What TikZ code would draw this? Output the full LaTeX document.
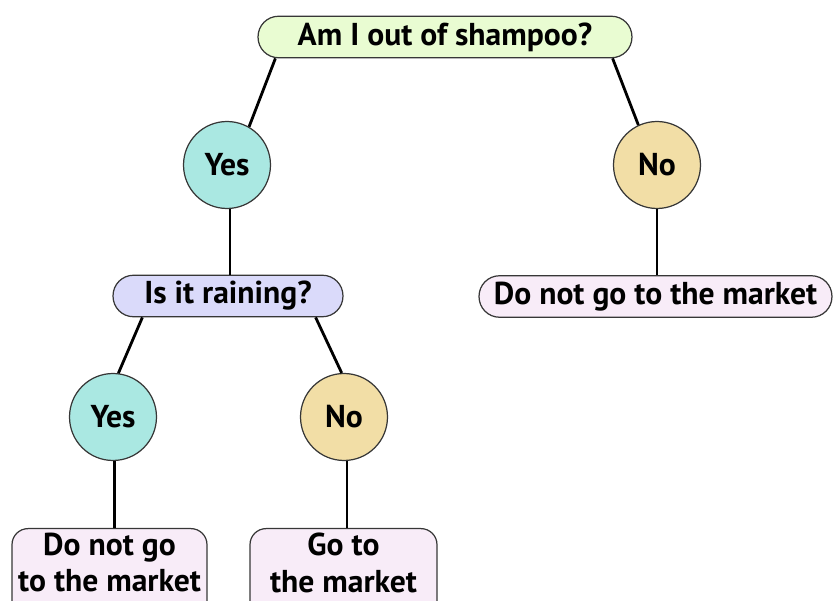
\documentclass[tikz,border=0pt]{standalone}
\usepackage{fontspec}
\setmainfont{PT Sans}
\definecolor{qgreen}{RGB}{233,252,210}
\definecolor{yesteal}{RGB}{170,232,226}
\definecolor{notan}{RGB}{242,222,166}
\definecolor{qblue}{RGB}{218,218,250}
\definecolor{ansink}{RGB}{248,236,248}
\definecolor{rimgray}{RGB}{55,55,55}
\begin{document}
\begin{tikzpicture}[x=0.02cm,y=-0.02cm]
			\tikzstyle{q} = [draw=rimgray, line width=0.7pt, rounded corners=0.41cm, minimum height=0.83cm, inner sep=0pt, font=\fontsize{18}{21}\selectfont\bfseries]
			\tikzstyle{c} = [draw=rimgray, line width=0.7pt, circle, minimum width=1.74cm, inner sep=0pt, font=\fontsize{18}{21}\selectfont\bfseries]
			\tikzstyle{a} = [draw=rimgray, line width=0.7pt, rounded corners=0.32cm, anchor=north, inner xsep=0pt, inner ysep=0.08cm, text depth=0.4cm, align=center, font=\fontsize{18}{21}\selectfont\bfseries]
			\tikzstyle{e} = [line width=1.6pt]
			\useasboundingbox (0,0) rectangle (833,601);
			\node [q,fill=qgreen,minimum width=7.48cm] (shampoo) at (445,37) {Am I out of shampoo?};
			\node [c,fill=yesteal] (yes1) at (227,165) {Yes};
			\node [c,fill=notan] (no1) at (657,165) {No};
			\node [q,fill=qblue,minimum width=4.6cm] (rain) at (228,296) {Is it raining?};
			\node [q,fill=ansink,minimum width=7.06cm] (stay1) at (655.5,296.5) {Do not go to the market};
			\node [c,fill=yesteal] (yes2) at (113,417) {Yes};
			\node [c,fill=notan] (no2) at (344,417) {No};
			\node [a,fill=ansink,minimum width=3.9cm] (stay2) at (109.5,528) {Do not go\\to the market};
			\node [a,fill=ansink,minimum width=3.74cm] (go) at (343.5,528) {Go to\\the market};
			
			\draw [e] ([xshift=0.36cm]shampoo.south west) -- (yes1.60);
			\draw [e] ([xshift=-0.4cm]shampoo.south east) -- (no1.115);
			\draw [e] (yes1.-86) -- (yes1.-86 |- rain.north);
			\draw [e] (no1.-90) -- (no1.-90 |- stay1.north);
			
			\draw [e] ([xshift=0.6cm]rain.south west) -- (yes2.83);
			\draw [e] ([xshift=-0.56cm]rain.south east) -- (no2.93);
			\draw [e] (yes2.-88) -- (yes2.-88 |- stay2.north);
			\draw [e] (no2.-86) -- (no2.-86 |- go.north);
			
		\end{tikzpicture}
\end{document}
